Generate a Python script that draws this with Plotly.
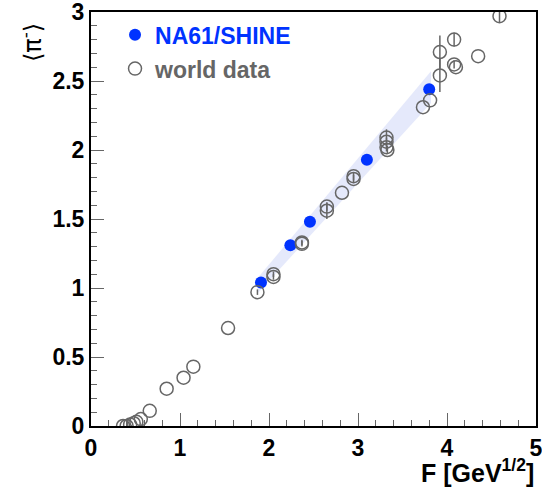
import plotly.graph_objects as go

# NA61/SHINE points
na61_F = [1.91, 2.24, 2.46, 3.10, 3.80]
na61_pi = [1.04, 1.31, 1.48, 1.93, 2.44]

# systematic band (edges)
band_F = [1.87, 3.82]
band_hi = [1.07, 2.57]
band_lo = [0.96, 2.34]

# world data
world_F = [0.36, 0.40, 0.44, 0.48, 0.51, 0.56, 0.66, 0.85, 1.04, 1.15, 1.54, 1.87,
           2.05, 2.05, 2.37, 2.37, 2.65, 2.65, 2.82, 2.95, 2.95, 3.32, 3.32, 3.32,
           3.33, 3.73, 3.81, 3.92, 3.92, 4.08, 4.08, 4.10, 4.35, 4.59]
world_pi = [0.0, 0.0, 0.01, 0.02, 0.03, 0.05, 0.11, 0.27, 0.35, 0.43, 0.71, 0.97,
            1.08, 1.10, 1.32, 1.33, 1.56, 1.59, 1.69, 1.79, 1.81, 2.09, 2.06, 2.02,
            2.00, 2.31, 2.36, 2.54, 2.71, 2.80, 2.62, 2.60, 2.68, 2.97]
world_err = [0.0, 0.0, 0.0, 0.0, 0.0, 0.0, 0.0, 0.0, 0.0, 0.0, 0.0, 0.02,
             0.02, 0.02, 0.02, 0.02, 0.06, 0.03, 0.0, 0.03, 0.03, 0.06, 0.03, 0.03,
             0.03, 0.0, 0.0, 0.12, 0.12, 0.05, 0.03, 0.0, 0.0, 0.05]

x_ticks = [0, 1, 2, 3, 4, 5]
y_ticks = [0, 0.5, 1, 1.5, 2, 2.5, 3]

BLUE = "#0033ff"
GRAY = "#666666"
FONT = "Liberation Sans, Arial, sans-serif"

fig = go.Figure()

fig.add_trace(go.Scatter(
    x=band_F + band_F[::-1], y=band_hi + band_lo[::-1],
    fill="toself", fillcolor="#e5e9fb", line=dict(width=0),
    mode="lines", showlegend=False, hoverinfo="skip"))

fig.add_trace(go.Scatter(
    x=na61_F, y=na61_pi, mode="markers",
    marker=dict(symbol="circle", size=12, color=BLUE),
    name="<span style='color:%s'>NA61/SHINE</span>" % BLUE,
    legendgroup="a"))

fig.add_trace(go.Scatter(
    x=world_F, y=world_pi, mode="markers",
    marker=dict(symbol="circle-open", size=13, color=GRAY, line=dict(width=1.5, color=GRAY)),
    error_y=dict(type="data", array=world_err, visible=True, color=GRAY, thickness=1.5, width=0),
    name="world data", legendgroup="b"))

axis_common = dict(
    showgrid=False, zeroline=False, showline=True, linecolor="black", linewidth=2,
    mirror=True, ticks="inside", ticklen=13, tickwidth=1, tickcolor=GRAY,
    automargin=False, ticklabeloverflow="allow",
    tickfont=dict(family=FONT, size=23, color="black", weight="bold"),
)

fig.update_xaxes(range=[0, 5], tickvals=x_ticks, ticktext=[str(v) for v in x_ticks],
                 minor=dict(dtick=0.2, ticklen=6, ticks="inside", tickcolor=GRAY, tickwidth=1),
                 **axis_common)
fig.update_yaxes(range=[0, 3], tickvals=y_ticks, ticktext=["%g" % v for v in y_ticks],
                 minor=dict(dtick=0.1, ticklen=6, ticks="inside", tickcolor=GRAY, tickwidth=1),
                 **axis_common)

fig.update_layout(
    width=542, height=493,
    margin=dict(l=91, r=6, t=12, b=67),
    plot_bgcolor="white", paper_bgcolor="white",
    font=dict(family=FONT),
    showlegend=True,
    legend=dict(x=0.054, y=0.997, xanchor="left", yanchor="top",
                bgcolor="rgba(0,0,0,0)", traceorder="grouped", tracegroupgap=1,
                itemsizing="trace",
                font=dict(family=FONT, size=23, color=GRAY, weight="bold")),
    annotations=[
        dict(text="⟨π<sup>-</sup>⟩", textangle=-90, xref="paper", yref="paper",
             x=-0.135, y=0.979, xanchor="center", yanchor="top", showarrow=False,
             font=dict(family="DejaVu Sans", size=24, color="black")),
        dict(text="<b>F [GeV<sup>1/2</sup>]</b>", xref="paper", yref="paper",
             x=1.0, y=-0.108, xanchor="right", yanchor="middle", showarrow=False,
             font=dict(family=FONT, size=25, color="black")),
    ],
)

fig.write_html("out.html", config={"displayModeBar": False},
               post_script="document.body.style.margin='0';document.body.style.overflow='hidden';")
